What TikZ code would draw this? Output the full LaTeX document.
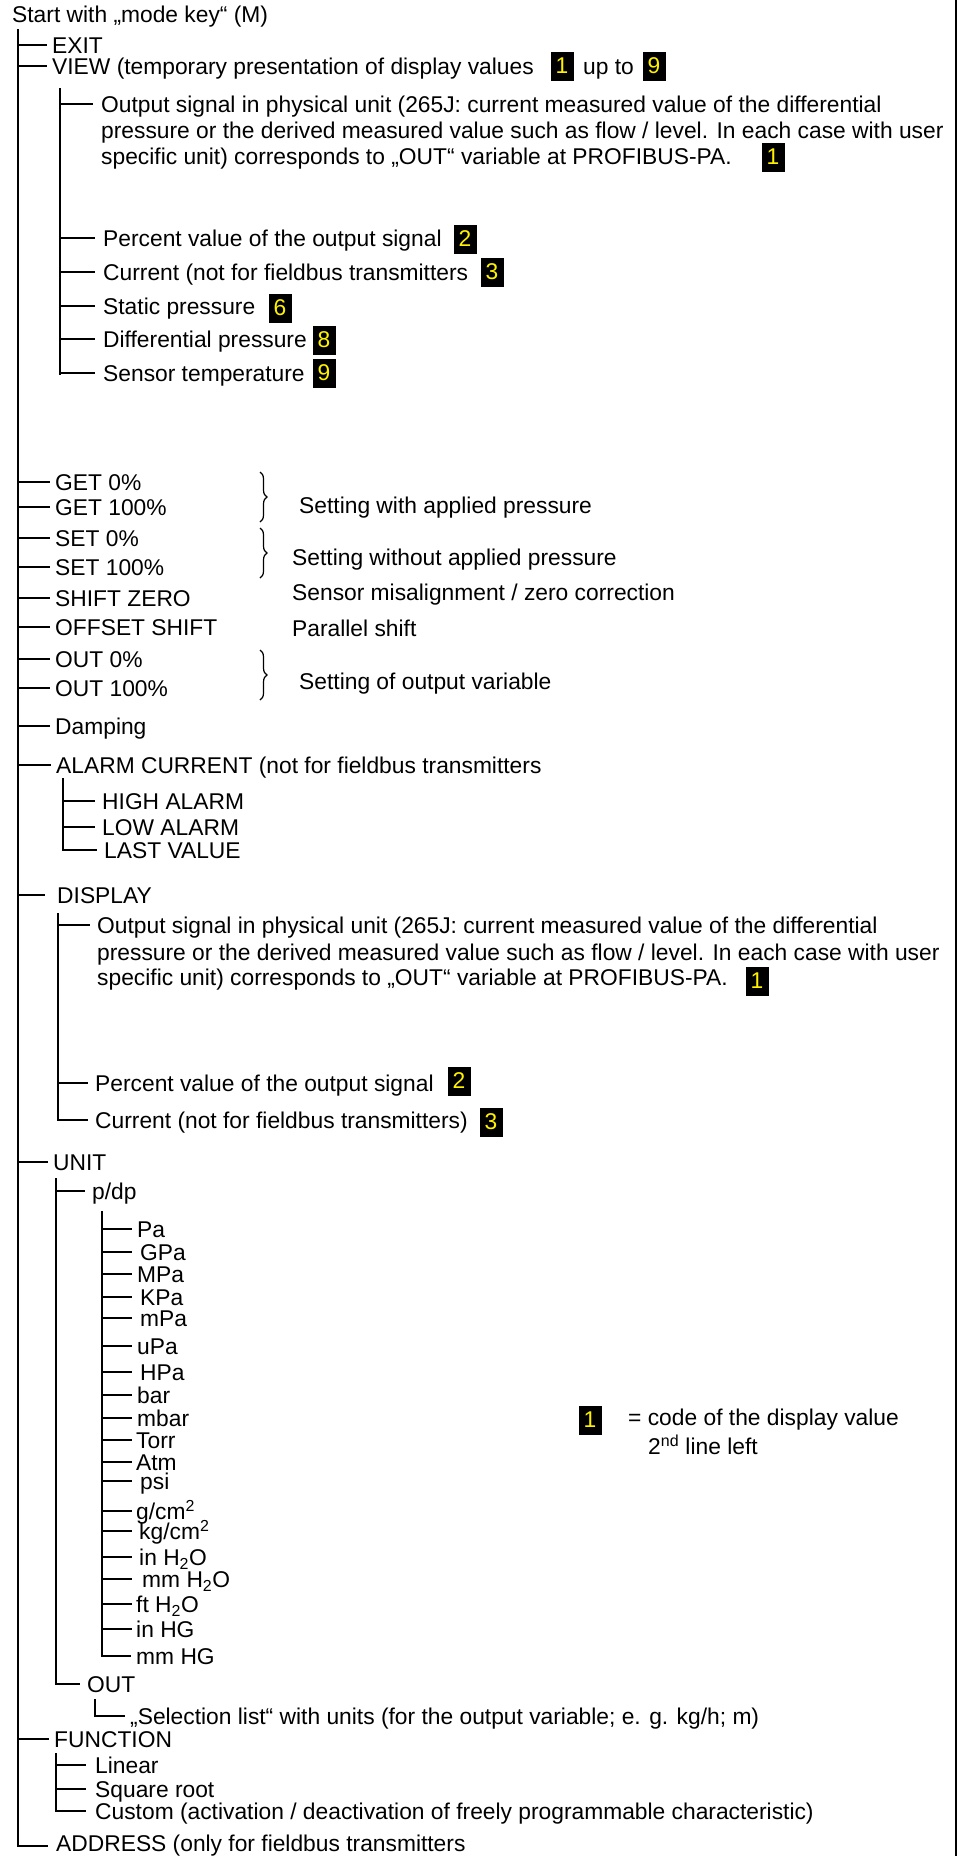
\documentclass[tikz,border=0pt]{standalone}
\usepackage{fontspec}
\setmainfont{Liberation Sans}
\usetikzlibrary{decorations.pathreplacing}
\newcommand\myfs{\fontsize{22.8pt}{26pt}\selectfont}
\begin{document}
\begin{tikzpicture}[x=1pt,y=-1pt,
  lbl/.style={anchor=west,inner sep=0pt,text height=16pt,text depth=0pt,font=\myfs},
  badge/.style={fill=black,text=yellow,minimum width=23pt,minimum height=29pt,inner sep=0pt,font=\myfs},
  tree/.style={line width=2.4pt},
  brc/.style={decorate,decoration={brace,amplitude=7pt},line width=1.2pt},
  frame/.style={line width=2.4pt}]
\useasboundingbox (0,0) rectangle (959,1856);
% ---------- top ----------
\node[lbl] (start) at (12,14) {Start with „mode key“ (M)};
\node[lbl] (exit) at (52,45) {EXIT};
\node[lbl] (view) at (52,66) {VIEW (temporary presentation of display values};
\node[badge] (bv1) at (562,66) {1};
\node[lbl] (upto) at (583,66) {up to};
\node[badge] (bv9) at (654,66) {9};
% VIEW children
\node[lbl] (o1a) at (101,104) {Output signal in physical unit (265J: current measured value of the differential};
\node[lbl] (o1b) at (101,130) {pressure or the derived measured value such as flow / level. In each case with user};
\node[lbl] (o1c) at (101,156) {specific unit) corresponds to „OUT“ variable at PROFIBUS-PA.};
\node[badge] (bo1) at (773,157) {1};
\node[lbl] (pv) at (103,238) {Percent value of the output signal};
\node[badge] (bpv) at (465,239) {2};
\node[lbl] (cur) at (103,272) {Current (not for fieldbus transmitters};
\node[badge] (bcur) at (492,272) {3};
\node[lbl] (stat) at (103,306) {Static pressure};
\node[badge] (bstat) at (280,308) {6};
\node[lbl] (diff) at (103,339) {Differential pressure};
\node[badge] (bdiff) at (324,340) {8};
\node[lbl] (sens) at (103,373) {Sensor temperature};
\node[badge] (bsens) at (324,373) {9};
% ---------- settings ----------
\node[lbl] (get0) at (55,482) {GET 0\%};
\node[lbl] (get100) at (55,507) {GET 100\%};
\node[lbl] (set0) at (55,538) {SET 0\%};
\node[lbl] (set100) at (55,567) {SET 100\%};
\node[lbl] (shz) at (55,598) {SHIFT ZERO};
\node[lbl] (offs) at (55,627) {OFFSET SHIFT};
\node[lbl] (out0) at (55,659) {OUT 0\%};
\node[lbl] (out100) at (55,688) {OUT 100\%};
\node[lbl] (damp) at (55,726) {Damping};
\draw[brc] (260,472) -- (260,522);
\draw[brc] (260,528) -- (260,578);
\draw[brc] (260,650) -- (260,700);
\node[lbl] (d1) at (299,505) {Setting with applied pressure};
\node[lbl] (d2) at (292,557) {Setting without applied pressure};
\node[lbl] (d3) at (292,592) {Sensor misalignment / zero correction};
\node[lbl] (d4) at (292,628) {Parallel shift};
\node[lbl] (d5) at (299,681) {Setting of output variable};
% ---------- alarm ----------
\node[lbl] (alarm) at (56,765) {ALARM CURRENT (not for fieldbus transmitters};
\node[lbl] (high) at (102,801) {HIGH ALARM};
\node[lbl] (low) at (102,827) {LOW ALARM};
\node[lbl] (last) at (104,850) {LAST VALUE};
% ---------- display ----------
\node[lbl] (disp) at (57,895) {DISPLAY};
\node[lbl] (do1a) at (97,925) {Output signal in physical unit (265J: current measured value of the differential};
\node[lbl] (do1b) at (97,952) {pressure or the derived measured value such as flow / level. In each case with user};
\node[lbl] (do1c) at (97,977) {specific unit) corresponds to „OUT“ variable at PROFIBUS-PA.};
\node[badge] (bdo1) at (757,981) {1};
\node[lbl] (dpv) at (95,1083) {Percent value of the output signal};
\node[badge] (bdpv) at (459,1081) {2};
\node[lbl] (dcur) at (95,1120) {Current (not for fieldbus transmitters)};
\node[badge] (bdcur) at (491,1122) {3};
% ---------- unit ----------
\node[lbl] (unit) at (53,1162) {UNIT};
\node[lbl] (pdp) at (92,1191) {p/dp};
\node[lbl] (u1) at (137,1229) {Pa};
\node[lbl] (u2) at (140,1252) {GPa};
\node[lbl] (u3) at (137,1274) {MPa};
\node[lbl] (u4) at (140,1297) {KPa};
\node[lbl] (u5) at (140,1318) {mPa};
\node[lbl] (u6) at (137,1346) {uPa};
\node[lbl] (u7) at (140,1372) {HPa};
\node[lbl] (u8) at (137,1395) {bar};
\node[lbl] (u9) at (137,1418) {mbar};
\node[lbl] (u10) at (136,1440) {Torr};
\node[lbl] (u11) at (136,1462) {Atm};
\node[lbl] (u12) at (140,1481) {psi};
\node[lbl] (u13) at (136,1511) {g/cm\textsuperscript{2}};
\node[lbl] (u14) at (139,1531) {kg/cm\textsuperscript{2}};
\node[lbl] (u15) at (139,1557) {in H\textsubscript{2}O};
\node[lbl] (u16) at (142,1579) {mm H\textsubscript{2}O};
\node[lbl] (u17) at (136,1604) {ft H\textsubscript{2}O};
\node[lbl] (u18) at (136,1629) {in HG};
\node[lbl] (u19) at (136,1656) {mm HG};
\node[lbl] (outn) at (87,1684) {OUT};
\node[lbl] (sel) at (130,1716) {„Selection list“ with units (for the output variable; e. g. kg/h; m)};
% ---------- function / address ----------
\node[lbl] (func) at (54,1739) {FUNCTION};
\node[lbl] (lin) at (95,1765) {Linear};
\node[lbl] (sqr) at (95,1789) {Square root};
\node[lbl] (cus) at (95,1811) {Custom (activation / deactivation of freely programmable characteristic)};
\node[lbl] (addr) at (56,1843) {ADDRESS (only for fieldbus transmitters};
% ---------- legend ----------
\node[badge] (lb) at (590,1420) {1};
\node[lbl] (leg1) at (628,1417) {= code of the display value};
\node[lbl] (leg2) at (648,1446) {2\textsuperscript{nd} line left};
% ---------- tree lines ----------
\coordinate (sp) at (18,29);
\draw[tree] (sp) -- ([yshift=-3pt]sp |- addr.west) -- ([xshift=-8pt,yshift=-3pt]addr.west);
\foreach \n in {exit,view,get0,get100,set0,set100,shz,offs,out0,out100,damp,alarm,unit,func}
  \draw[tree] (sp |- \n.west) -- ([xshift=-5pt]\n.west);
\draw[tree] (sp |- disp.west) -- ([xshift=-12pt]disp.west);
% VIEW
\coordinate (vs) at (60,88);
\draw[tree] (vs) -- ([yshift=-2pt]vs |- sens.west);
\foreach \n in {o1a,pv,cur,stat,diff,sens}
  \draw[tree] (vs |- \n.west) -- ([xshift=-8pt]\n.west);
% ALARM
\coordinate (as) at (63,778);
\draw[tree] (as) -- (as |- last.west) -- ([xshift=-7pt]last.west);
\foreach \n in {high,low}
  \draw[tree] (as |- \n.west) -- ([xshift=-7pt]\n.west);
% DISPLAY
\coordinate (ds) at (58,913);
\draw[tree] (ds) -- (ds |- dcur.west) -- ([xshift=-7pt]dcur.west);
\foreach \n in {do1a,dpv}
  \draw[tree] (ds |- \n.west) -- ([xshift=-7pt]\n.west);
% UNIT
\coordinate (us) at (56,1178);
\draw[tree] (us) -- (us |- outn.west) -- ([xshift=-7pt]outn.west);
\draw[tree] (us |- pdp.west) -- ([xshift=-7pt]pdp.west);
\coordinate (ps) at (102,1211);
\draw[tree] (ps) -- (ps |- u19.west) -- ([xshift=-5pt]u19.west);
\foreach \n in {u1,u2,u3,u4,u5,u6,u7,u8,u9,u10,u11,u12,u13,u14,u15,u16,u17,u18}
  \draw[tree] (ps |- \n.west) -- (132,0 |- \n.west);
\coordinate (os) at (95,1699);
\draw[tree] (os) -- (os |- sel.west) -- ([xshift=-5pt]sel.west);
% FUNCTION
\coordinate (fs) at (56,1753);
\draw[tree] (fs) -- (fs |- cus.west) -- ([xshift=-9pt]cus.west);
\foreach \n in {lin,sqr}
  \draw[tree] (fs |- \n.west) -- ([xshift=-9pt]\n.west);
% right frame
\coordinate (ft) at (956,0);
\coordinate (fb) at (956,1856);
\draw[frame] (ft) -- (fb);
\end{tikzpicture}
\end{document}
